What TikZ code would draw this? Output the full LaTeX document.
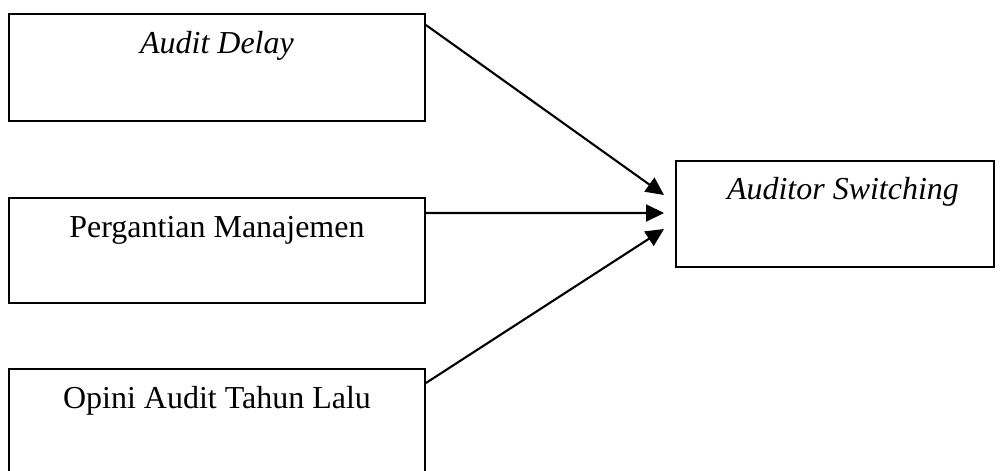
\documentclass[tikz,border=0pt]{standalone}
\usepackage{fontspec}
\setmainfont{Liberation Serif}
\usepackage{xcolor}
\usepackage{tikz}
\usetikzlibrary{arrows.meta,positioning}
\definecolor{model@line}{RGB}{0,0,0}
\tikzset{
  model/.style={
    >={Triangle[length=0.36cm,width=0.34cm]},
    line width=1.1pt,
    every node/.style={font=\fontsize{18.2}{22}\selectfont}
  },
  varbox/.style={                  % independent variable box
    draw=model@line, line width=1.1pt,
    inner sep=0pt,
    anchor=north west,
    minimum width=8.32cm,
    text height=0.8cm,
    text depth=1.34cm
  },
  depbox/.style={                  % dependent variable box
    draw=model@line, line width=1.1pt,
    inner sep=0pt,
    anchor=north west,
    minimum width=6.36cm,
    text height=0.78cm,
    text depth=1.34cm
  },
  effect/.style={->, line width=1.2pt, draw=model@line}
}

\begin{document}
\begin{tikzpicture}[model]
\useasboundingbox (0,0) rectangle (20.04,-9.4);

% Independent variables
\node[varbox] (ad) at (0.16,-0.26) {\itshape Audit Delay};
\node[varbox, text depth=1.30cm] (pm) at (0.16,-3.94) {Pergantian Manajemen};
\node[varbox] (oa) at (0.16,-7.36) {Opini Audit Tahun Lalu};

% Dependent variable
\node[depbox] (as) at (13.5,-3.2) {\hspace{0.32cm}\itshape Auditor Switching};

% Effects
\draw[effect] ([yshift=-0.24cm]ad.north east) -- ([xshift=-0.22cm,yshift=-0.7cm]as.north west);
\draw[effect] ([yshift=-0.32cm]pm.north east) -- ([xshift=-0.22cm,yshift=-1.06cm]as.north west);
\draw[effect] ([yshift=-0.3cm]oa.north east) -- ([xshift=-0.22cm,yshift=-1.38cm]as.north west);

\end{tikzpicture}
\end{document}
